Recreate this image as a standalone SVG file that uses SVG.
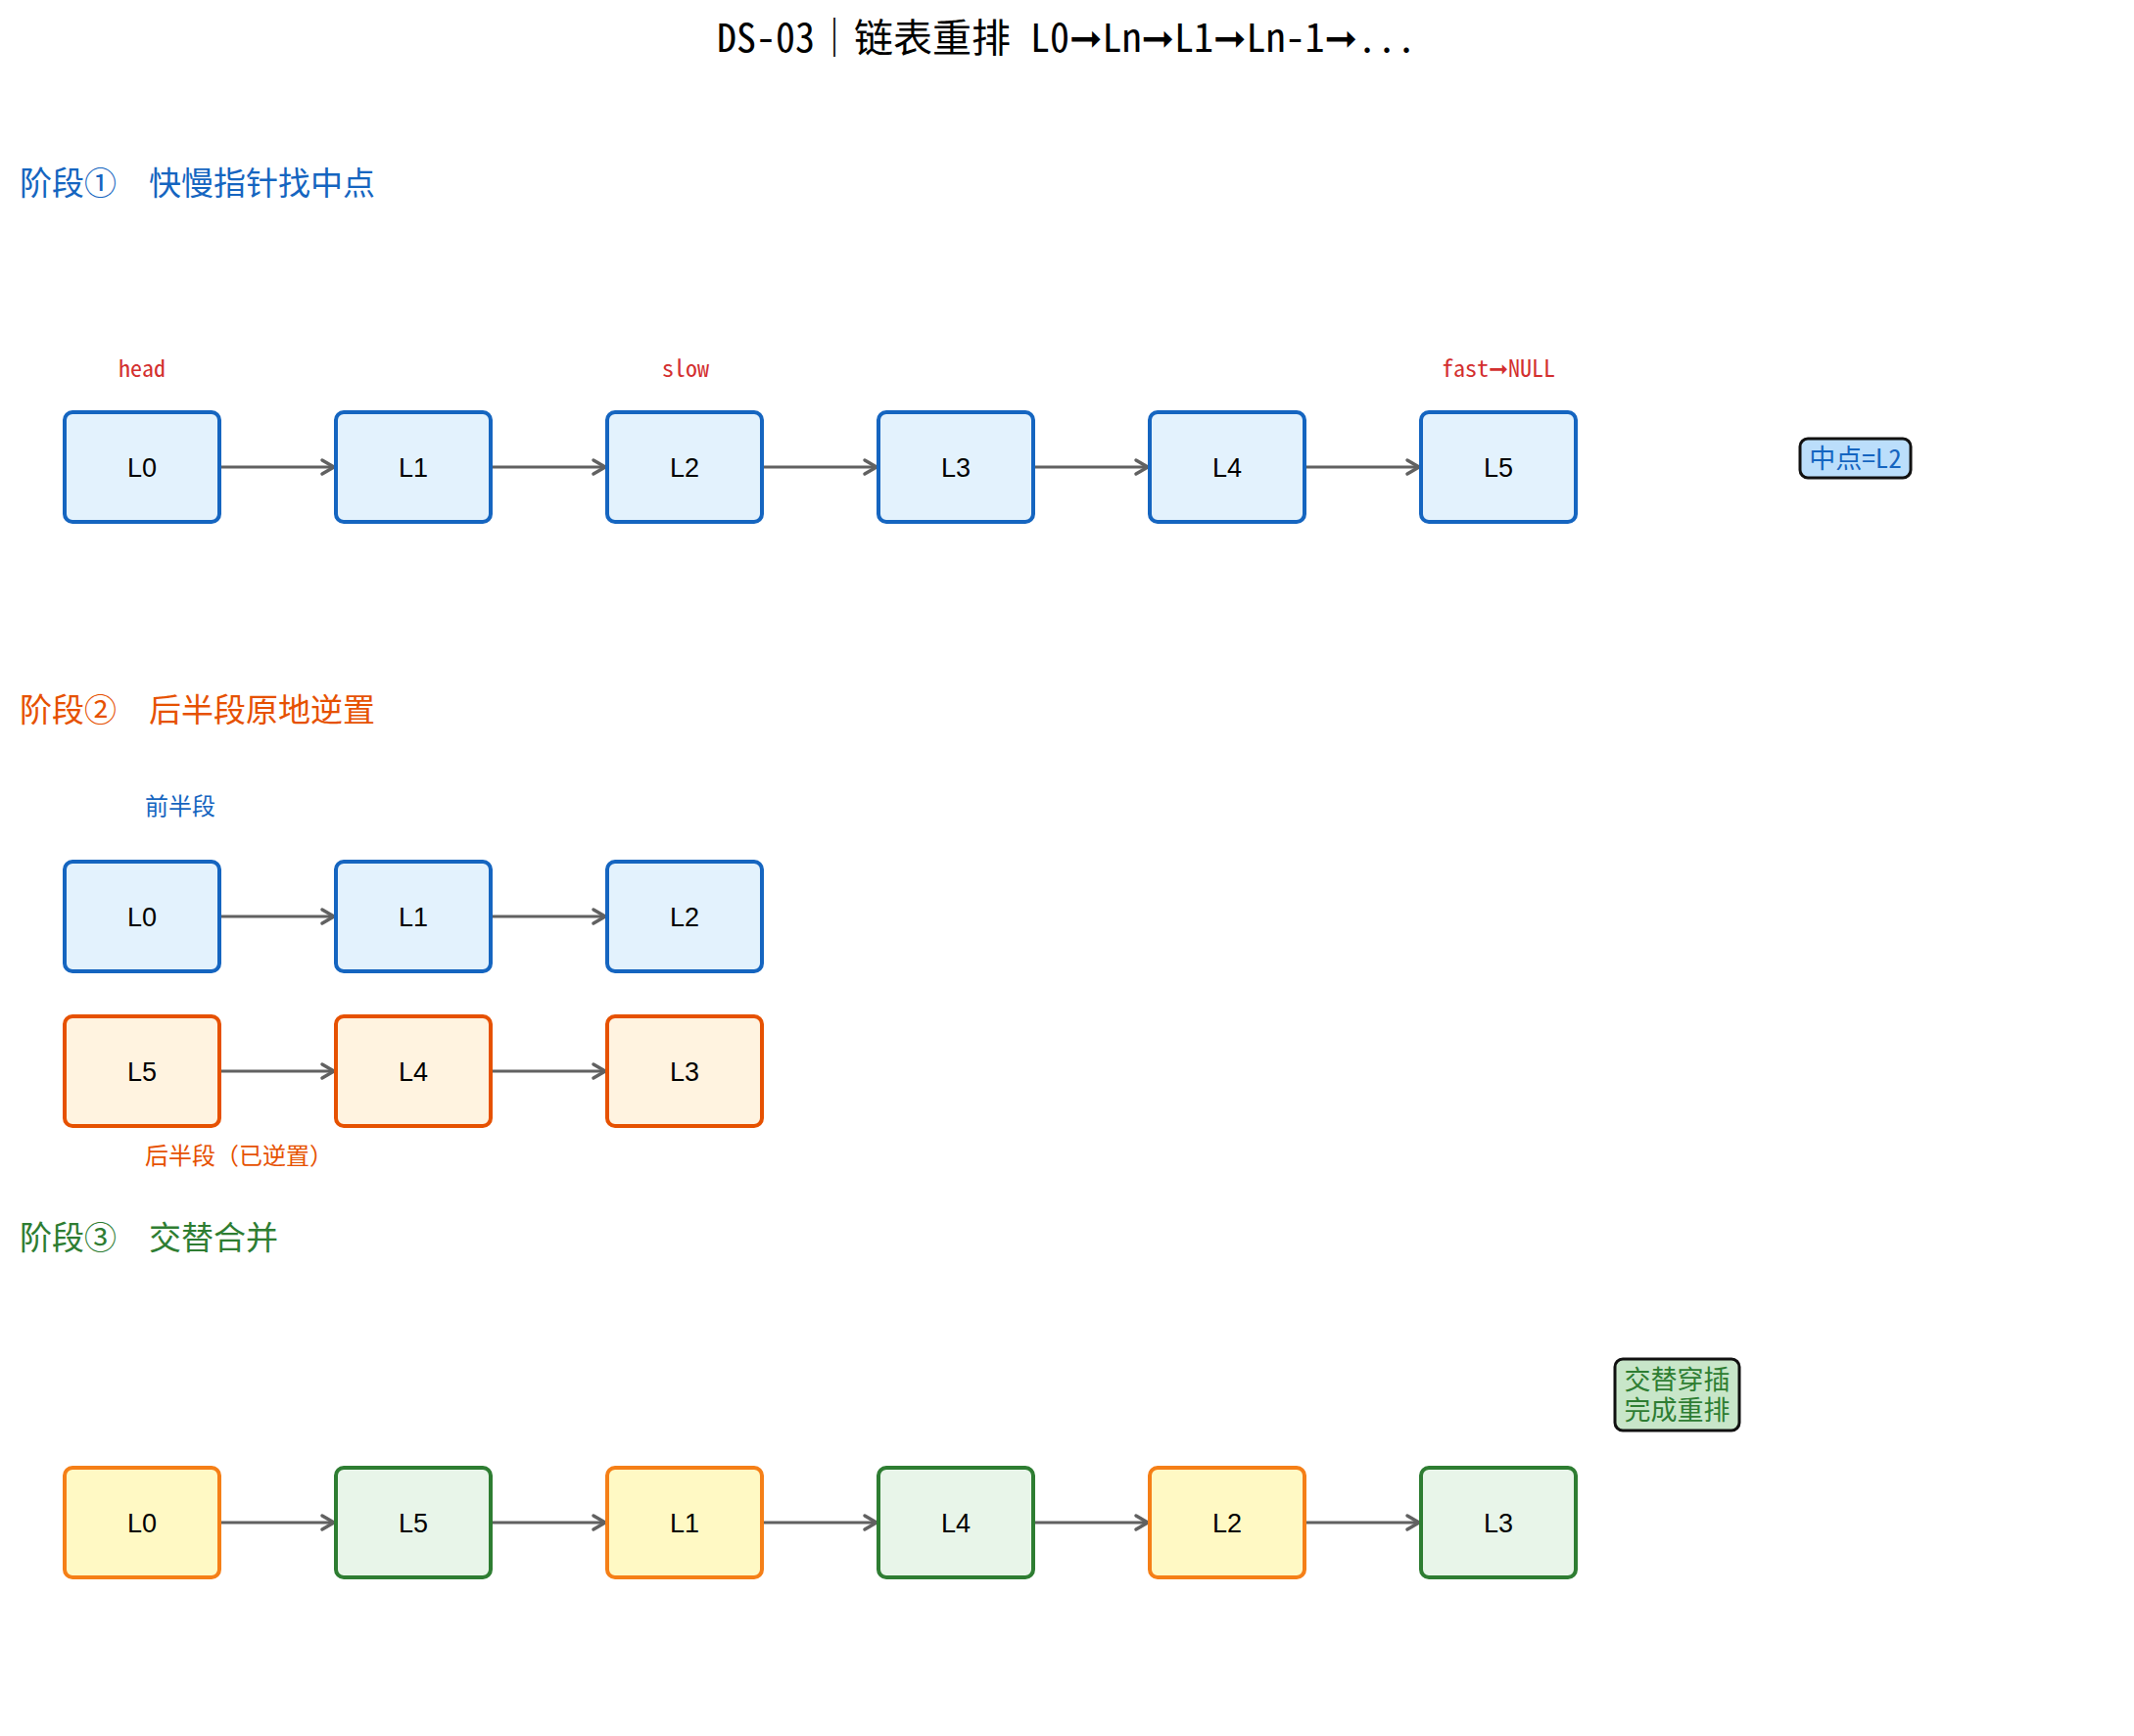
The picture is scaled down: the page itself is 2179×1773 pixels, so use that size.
<svg xmlns="http://www.w3.org/2000/svg" width="2179" height="1773" viewBox="0 0 2179 1773">
<style>
.mono{font-family:"Noto Sans Mono CJK SC","Noto Sans CJK SC","DejaVu Sans Mono",monospace}
.ar{font-family:"DejaVu Sans",sans-serif}
.title{font-size:40px;fill:#000}
.hdr{font-size:33px}
.lbl{font-size:24px}
.nl{font-family:"Liberation Sans","Noto Sans CJK SC",sans-serif;font-size:27px;fill:#000;text-anchor:middle}
.b{fill:#e3f2fd;stroke:#1565c0;stroke-width:4}
.o{fill:#fff3e0;stroke:#e65100;stroke-width:4}
.y{fill:#fff9c4;stroke:#f57f17;stroke-width:4}
.g{fill:#e8f5e9;stroke:#2e7d32;stroke-width:4}
.edge{stroke:#616161;stroke-width:3;fill:none;marker-end:url(#arr)}
.red{fill:#d32f2f}
</style>
<defs>
<marker id="arr" markerUnits="userSpaceOnUse" markerWidth="18" markerHeight="20" viewBox="0 0 18 20" refX="15" refY="10" orient="auto">
<path d="M3,3 L15,10 L3,17" fill="none" stroke="#616161" stroke-width="3.5" stroke-linecap="round" stroke-linejoin="round"/>
</marker>
</defs>
<rect width="2179" height="1773" fill="#fff"/>
<text class="mono title" x="1089" y="53" text-anchor="middle">DS-03｜链表重排 L0<tspan class="ar">➞</tspan>Ln<tspan class="ar">➞</tspan>L1<tspan class="ar">➞</tspan>Ln-1<tspan class="ar">➞</tspan>...</text>

<text class="mono hdr" x="20" y="199" fill="#1565c0" xml:space="preserve">阶段①  快慢指针找中点</text>
<text class="mono hdr" x="20" y="737" fill="#e65100" xml:space="preserve">阶段②  后半段原地逆置</text>
<text class="mono hdr" x="20" y="1276" fill="#2e7d32" xml:space="preserve">阶段③  交替合并</text>

<g id="labels1">
<text class="mono lbl red" x="145" y="385" text-anchor="middle">head</text>
<text class="mono lbl red" x="700" y="385" text-anchor="middle">slow</text>
<text class="mono lbl red" x="1530" y="385" text-anchor="middle">fast<tspan class="ar">➞</tspan>NULL</text>
</g>

<g id="connectors">
<line class="edge" x1="226" y1="477" x2="341" y2="477"/>
<line class="edge" x1="503" y1="477" x2="618" y2="477"/>
<line class="edge" x1="780" y1="477" x2="895" y2="477"/>
<line class="edge" x1="1057" y1="477" x2="1172" y2="477"/>
<line class="edge" x1="1334" y1="477" x2="1449" y2="477"/>
<line class="edge" x1="226" y1="936" x2="341" y2="936"/>
<line class="edge" x1="503" y1="936" x2="618" y2="936"/>
<line class="edge" x1="226" y1="1094" x2="341" y2="1094"/>
<line class="edge" x1="503" y1="1094" x2="618" y2="1094"/>
<line class="edge" x1="226" y1="1555" x2="341" y2="1555"/>
<line class="edge" x1="503" y1="1555" x2="618" y2="1555"/>
<line class="edge" x1="780" y1="1555" x2="895" y2="1555"/>
<line class="edge" x1="1057" y1="1555" x2="1172" y2="1555"/>
<line class="edge" x1="1334" y1="1555" x2="1449" y2="1555"/>
</g>

<g id="s1-L0"><rect class="b" x="66" y="421" width="158" height="112" rx="8"/><text class="nl" x="145" y="487">L0</text></g>
<g id="s1-L1"><rect class="b" x="343" y="421" width="158" height="112" rx="8"/><text class="nl" x="422" y="487">L1</text></g>
<g id="s1-L2"><rect class="b" x="620" y="421" width="158" height="112" rx="8"/><text class="nl" x="699" y="487">L2</text></g>
<g id="s1-L3"><rect class="b" x="897" y="421" width="158" height="112" rx="8"/><text class="nl" x="976" y="487">L3</text></g>
<g id="s1-L4"><rect class="b" x="1174" y="421" width="158" height="112" rx="8"/><text class="nl" x="1253" y="487">L4</text></g>
<g id="s1-L5"><rect class="b" x="1451" y="421" width="158" height="112" rx="8"/><text class="nl" x="1530" y="487">L5</text></g>
<g id="mid-note"><rect x="1838" y="448" width="113" height="40" rx="8" fill="#bbdefb" stroke="#111" stroke-width="3"/><text class="mono" x="1894.5" y="478" font-size="27" fill="#1565c0" text-anchor="middle">中点=L2</text></g>

<text class="mono lbl" x="148" y="832" fill="#1565c0">前半段</text>
<g id="s2-L0"><rect class="b" x="66" y="880" width="158" height="112" rx="8"/><text class="nl" x="145" y="946">L0</text></g>
<g id="s2-L1"><rect class="b" x="343" y="880" width="158" height="112" rx="8"/><text class="nl" x="422" y="946">L1</text></g>
<g id="s2-L2"><rect class="b" x="620" y="880" width="158" height="112" rx="8"/><text class="nl" x="699" y="946">L2</text></g>
<g id="s2-L5"><rect class="o" x="66" y="1038" width="158" height="112" rx="8"/><text class="nl" x="145" y="1104">L5</text></g>
<g id="s2-L4"><rect class="o" x="343" y="1038" width="158" height="112" rx="8"/><text class="nl" x="422" y="1104">L4</text></g>
<g id="s2-L3"><rect class="o" x="620" y="1038" width="158" height="112" rx="8"/><text class="nl" x="699" y="1104">L3</text></g>
<text class="mono lbl" x="148" y="1189" fill="#e65100">后半段（已逆置）</text>

<g id="merge-note"><rect x="1649" y="1388" width="127" height="73" rx="8" fill="#c8e6c9" stroke="#111" stroke-width="3"/><text class="mono" font-size="27" fill="#2e7d32" text-anchor="middle"><tspan x="1712.5" y="1419">交替穿插</tspan><tspan x="1712.5" y="1450">完成重排</tspan></text></g>
<g id="s3-L0"><rect class="y" x="66" y="1499" width="158" height="112" rx="8"/><text class="nl" x="145" y="1565">L0</text></g>
<g id="s3-L5"><rect class="g" x="343" y="1499" width="158" height="112" rx="8"/><text class="nl" x="422" y="1565">L5</text></g>
<g id="s3-L1"><rect class="y" x="620" y="1499" width="158" height="112" rx="8"/><text class="nl" x="699" y="1565">L1</text></g>
<g id="s3-L4"><rect class="g" x="897" y="1499" width="158" height="112" rx="8"/><text class="nl" x="976" y="1565">L4</text></g>
<g id="s3-L2"><rect class="y" x="1174" y="1499" width="158" height="112" rx="8"/><text class="nl" x="1253" y="1565">L2</text></g>
<g id="s3-L3"><rect class="g" x="1451" y="1499" width="158" height="112" rx="8"/><text class="nl" x="1530" y="1565">L3</text></g>
</svg>
